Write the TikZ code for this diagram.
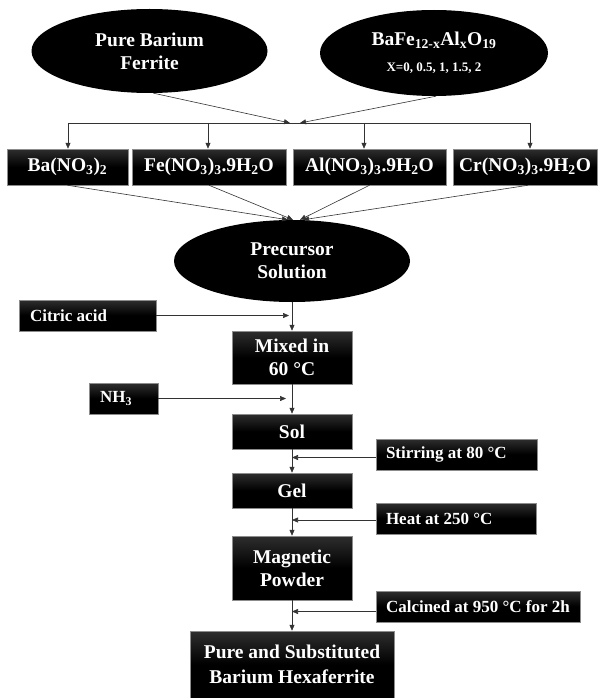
\documentclass[tikz,border=0pt]{standalone}
\usepackage{fontspec}
\setmainfont{Liberation Serif}
\usetikzlibrary{shapes.geometric,arrows.meta}
\begin{document}
\begin{tikzpicture}[x=1pt,y=-1pt,
  bigf/.style={font=\bfseries\fontsize{19.5}{23}\selectfont},
  sidef/.style={font=\bfseries\fontsize{17}{20}\selectfont},
  oval/.style={ellipse, fill=black, text=white, inner sep=0pt,
    minimum width=236pt, minimum height=84pt, align=center, bigf},
  blk/.style={rectangle, draw=black!45, line width=0.5pt,
    top color=black!82, bottom color=black, middle color=black,
    text=white, inner sep=0pt},
  mainbox/.style={blk, align=center, bigf, minimum width=120pt},
  sidebox/.style={blk, sidef, inner xsep=11pt, minimum height=31pt},
  conn/.style={draw=black!80, line width=0.6pt},
  arr/.style={conn, -{Triangle[length=6pt,width=5pt]}}
  ]
\fill[white] (0,0) rectangle (598,698);
\useasboundingbox (0,0) rectangle (598,698);

% top ellipses
\node[oval] (e1) at (149.5,51) {Pure Barium\\Ferrite};
\node[oval, minimum width=228pt, minimum height=86pt] (e2) at (434,53)
  {BaFe\textsubscript{12-x}Al\textsubscript{x}O\textsubscript{19}\\[3pt]
   {\fontsize{13}{15}\selectfont X=0, 0.5, 1, 1.5, 2}};

% nitrate boxes
\node[mainbox, minimum width=121pt, minimum height=36pt] (ba) at (67.5,167) {Ba(NO\textsubscript{3})\textsubscript{2}};
\node[mainbox, minimum width=154pt, minimum height=36pt] (fe) at (209,167) {Fe(NO\textsubscript{3})\textsubscript{3}.9H\textsubscript{2}O};
\node[mainbox, minimum width=153pt, minimum height=36pt] (al) at (369.5,167) {Al(NO\textsubscript{3})\textsubscript{3}.9H\textsubscript{2}O};
\node[mainbox, minimum width=144pt, minimum height=36pt] (cr) at (525,167) {Cr(NO\textsubscript{3})\textsubscript{3}.9H\textsubscript{2}O};

% distribution bar
\coordinate (ja) at (290,123);
\coordinate (jb) at (300,123);
\coordinate (d1) at (68,123);
\coordinate (d2) at (208,123);
\coordinate (d3) at (364,123);
\coordinate (d4) at (530,123);
\draw[conn] (d1) -- (d4);
\draw[arr] ([xshift=4pt]e1.south) -- (ja);
\draw[arr] ([xshift=2pt]e2.south) -- (jb);
\draw[arr] (d1) -- (d1 |- ba.north);
\draw[arr] (d2) -- (d2 |- fe.north);
\draw[arr] (d3) -- (d3 |- al.north);
\draw[arr] (d4) -- (d4 |- cr.north);

% precursor
\node[oval, minimum height=82pt] (prec) at (292,261) {Precursor\\Solution};
\draw[arr] (ba.south) -- ([xshift=-4pt]prec.north);
\draw[arr] (fe.south) -- ([xshift=1pt]prec.north);
\draw[arr] (al.south) -- ([xshift=8pt]prec.north);
\draw[arr] ([xshift=3pt]cr.south) -- ([xshift=11pt]prec.north);

% main column
\node[mainbox, minimum height=53pt] (mix) at (292,357.5) {Mixed in\\60 °C};
\node[mainbox, minimum height=35pt] (sol) at (292,431.5) {Sol};
\node[mainbox, minimum height=35pt] (gel) at (292,490.5) {Gel};
\node[mainbox, minimum height=64pt] (mag) at (292,568) {Magnetic\\Powder};
\node[mainbox, minimum width=204pt, minimum height=67pt] (fin) at (292,664.5) {Pure and Substituted\\[2pt]Barium Hexaferrite};

\draw[arr] (prec.south) -- (mix.north);
\draw[arr] (mix.south) -- (sol.north);
\draw[arr] (sol.south) -- (gel.north);
\draw[arr] (gel.south) -- (mag.north);
\draw[arr] (mag.south) -- (fin.north);

% side inputs
\node[sidebox] (cit) at (87.5,315.5) {\makebox[115pt][l]{Citric acid}};
\node[sidebox] (nh) at (123.5,398.5) {\makebox[47pt][l]{NH\textsubscript{3}}};
\node[sidebox, inner xsep=10pt] (stir) at (456.5,454.5) {\makebox[141pt][l]{Stirring at 80 °C}};
\node[sidebox, inner xsep=10pt] (heat) at (456,518.5) {\makebox[140pt][l]{Heat at 250 °C}};
\node[sidebox, inner xsep=10pt] (calc) at (478,606.5) {\makebox[184pt][l]{Calcined at 950 °C for 2h}};

\draw[arr, shorten >=3pt] (cit.east) -- (cit.east -| mix.north);
\draw[arr, shorten >=6pt] (nh.east) -- (nh.east -| sol.north);
\draw[arr] ([yshift=-3pt]stir.west) -- ([yshift=-3pt]stir.west -| sol.south);
\draw[arr] ([yshift=-1.5pt]heat.west) -- ([yshift=-1.5pt]heat.west -| gel.south);
\draw[arr] ([yshift=-5pt]calc.west) -- ([yshift=-5pt]calc.west -| mag.south);
\end{tikzpicture}
\end{document}
